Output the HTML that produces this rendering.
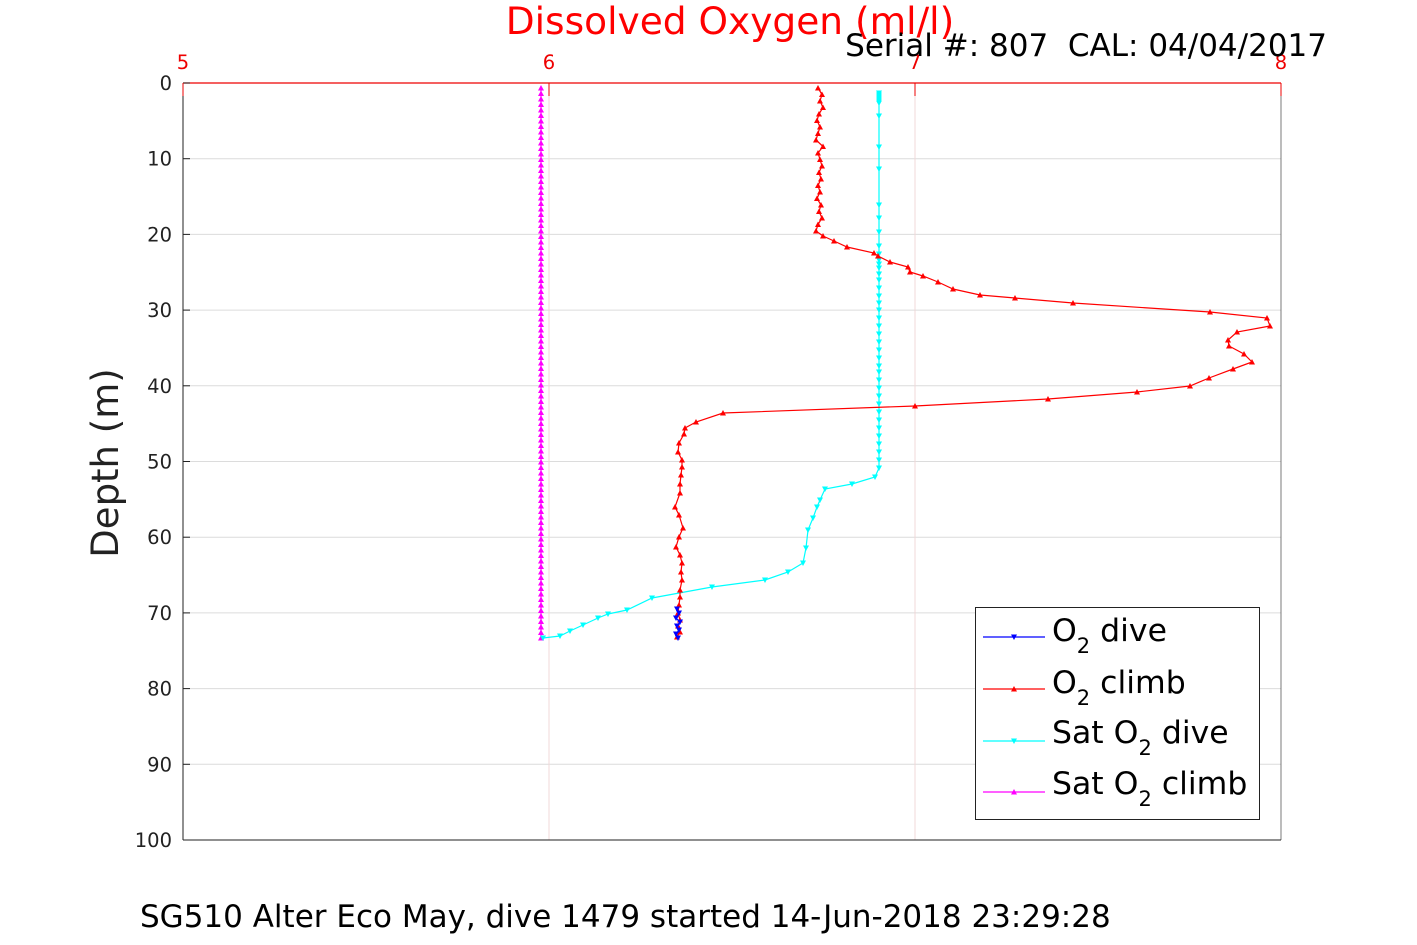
<!DOCTYPE html>
<html><head><meta charset="utf-8"><style>
body{margin:0;background:#fff;}
svg{display:block;font-family:"DejaVu Sans","Liberation Sans",sans-serif;}
</style></head><body>
<svg id="s" width="1417" height="945" xmlns="http://www.w3.org/2000/svg">
<rect width="1417" height="945" fill="#fff"/>
<g id="grid" stroke="#dcdcdc" stroke-width="1"></g>
<line x1="183" y1="83" x2="1281" y2="83" stroke="#e00" stroke-width="1.2"/>
<line x1="183" y1="83" x2="183" y2="840" stroke="#222" stroke-width="1"/>
<line x1="183" y1="840" x2="1281" y2="840" stroke="#222" stroke-width="1"/>
<line x1="1281" y1="83" x2="1281" y2="840" stroke="#222" stroke-width="0.6"/>
<g id="ticks"></g>
<g id="data"></g>
<text x="730" y="34" font-size="37.5" fill="#f00" text-anchor="middle">Dissolved Oxygen (ml/l)</text>
<text x="1327" y="56" font-size="31" fill="#000" text-anchor="end" style="white-space:pre" xml:space="preserve">Serial #: 807  CAL: 04/04/2017</text>
<text x="140" y="927" font-size="31" fill="#000">SG510 Alter Eco May, dive 1479 started 14-Jun-2018 23:29:28</text>
<text transform="translate(118,463) rotate(-90)" font-size="37" fill="#222" text-anchor="middle">Depth (m)</text>
<rect x="975.5" y="607.5" width="284" height="212" fill="#fff" stroke="#222" stroke-width="1"/>
<g id="leg"></g>
<g font-size="31.5" fill="#000">
<text x="1052" y="641">O<tspan font-size="21" dy="12">2</tspan><tspan dy="-12"> dive</tspan></text>
<text x="1052" y="693">O<tspan font-size="21" dy="12">2</tspan><tspan dy="-12"> climb</tspan></text>
<text x="1052" y="743">Sat O<tspan font-size="21" dy="12">2</tspan><tspan dy="-12"> dive</tspan></text>
<text x="1052" y="794">Sat O<tspan font-size="21" dy="12">2</tspan><tspan dy="-12"> climb</tspan></text>
</g>
</svg>
<script>
const NS="http://www.w3.org/2000/svg";
function el(p,t,a,txt){const e=document.createElementNS(NS,t);for(const k in a)e.setAttribute(k,a[k]);if(txt!==undefined)e.textContent=txt;document.getElementById(p).appendChild(e);return e;}
for(let i=1;i<10;i++){const y=83+i*75.7;el('grid','line',{x1:183,y1:y,x2:1281,y2:y});}
[549,915].forEach(x=>el('grid','line',{x1:x,y1:83,x2:x,y2:840,stroke:'#f0d8d8'}));
for(let i=0;i<=10;i++){const y=83+i*75.7;el('ticks','text',{x:172,y:y+7,'font-size':19.5,fill:'#222','text-anchor':'end'},String(i*10));el('ticks','line',{x1:183,y1:y,x2:190,y2:y,stroke:'#222'});}
[5,6,7,8].forEach((v,i)=>{const x=183+i*366;el('ticks','text',{x:x,y:69,'font-size':19.5,fill:'#e00','text-anchor':'middle'},String(v));el('ticks','line',{x1:x,y1:83,x2:x,y2:96,stroke:'#e00'});});
function series(pts,color,up,step){
 el('data','polyline',{points:pts.map(p=>p.join(',')).join(' '),fill:'none',stroke:color,'stroke-width':1.2});
 pts.forEach((p,i)=>{if(step&&i%step)return;const [x,y]=p;const d=up?`M${x-3},${y+2.5}L${x+3},${y+2.5}L${x},${y-3}Z`:`M${x-3},${y-2.5}L${x+3},${y-2.5}L${x},${y+3}Z`;el('data','path',{d:d,fill:color});});
}
let m=[];for(let y=88;y<=638;y+=5.5)m.push([541,y]);series(m,'#f0f',true);
let c=[];for(let y=93;y<=103;y+=2)c.push([879,y]);
[116,147,169,205,218,232,246,254,260,264,268,274,280,288,296,303,310,318,326,334,342,350,358,366,372,380,388,396,404,412,420,428,436,444,452,460,468].forEach(y=>c.push([879,y]));
c=c.concat([[875,477],[852,484],[825,489],[820,500],[817,507],[813,518],[808,530],[806,548],[803,563],[788,572],[765,580],[712,587],[652,598],[627,610],[608,614],[598,618],[583,625],[570,631],[560,636],[543,638]]);
series(c,'#0ff',false);
let r=[];const xs=[818,822,820,823,819,817,820,818,816,823,818,820,822,819,821,818,820,817,821,819,822,818,816];
xs.forEach((x,i)=>r.push([x,88+i*6.5]));
r=r.concat([[823,236],[834,241],[847,247],[874,253],[878,256],[890,262],[908,267],[910,272],[923,276],[938,282],[953,289],[980,295],[1015,298],[1073,303],[1210,312],[1267,318],[1270,326],[1237,332],[1228,340],[1229,346],[1244,354],[1252,362],[1233,369],[1209,378],[1190,386],[1137,392],[1048,399],[915,406],[723,413],[696,422],[685,428],[684,434],[679,443],[678,452],[682,460],[682,467],[681,475],[680,484],[680,493],[675,507],[679,515],[683,528],[679,537],[676,547],[680,555],[682,563],[681,572],[682,580],[680,590],[680,597],[679,605],[678,613],[680,620],[678,626],[680,632],[677,637]]);
series(r,'#f00',true);
series([[677,609],[679,613],[676,618],[680,622],[677,626],[679,630],[676,634],[678,638]],'#00f',false);
[[631,'#00f',false],[683,'#f00',true],[735,'#0ff',false],[786,'#f0f',true]].forEach(([y,col,up])=>{
 const yy=y+6;el('leg','line',{x1:983,y1:yy,x2:1045,y2:yy,stroke:col,'stroke-width':1.2});
 const x=1014;el('leg','path',{d:up?`M${x-3},${yy+2.5}L${x+3},${yy+2.5}L${x},${yy-3}Z`:`M${x-3},${yy-2.5}L${x+3},${yy-2.5}L${x},${yy+3}Z`,fill:col});
});
</script>
</body></html>
